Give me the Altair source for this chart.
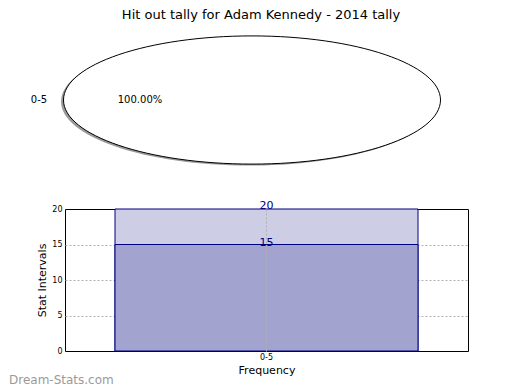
import altair as alt
import pandas as pd

# ---- data -----------------------------------------------------------
categories = ["0-5"]
totals = [20]
hits = [15]
shares = [100.0]
pie_labels = ["100.00%"]
y_ticks = [0, 5, 10, 15, 20]

TITLE = "Hit out tally for Adam Kennedy - 2014 tally"
WATERMARK = "Dream-Stats.com"

pie_df = pd.DataFrame({"cat": categories, "share": shares, "pct": pie_labels})
bar_df = pd.DataFrame({"cat": categories, "total": totals, "hits": hits})

FONT = "DejaVu Sans"
NAVY = "#000080"
GRID = "#b0b0b0"
ELLIPSE = "M-1,0A1,0.34,0,1,1,1,0A1,0.34,0,1,1,-1,0Z"

# ---- top panel: single-slice pie drawn as flattened ellipse ---------
top = alt.Chart(pie_df)
title_mark = top.mark_text(text=TITLE, font=FONT, fontSize=13, color="black",
                           align="center", baseline="alphabetic").encode(
    x=alt.value(196), y=alt.value(10))
shadow = top.mark_point(shape=ELLIPSE, filled=True, fill="#9a9a9a", opacity=1,
                        strokeWidth=0, xOffset=-2.5, yOffset=1.5).encode(
    x=alt.value(187), y=alt.value(91), size=alt.value(142129))
slice_ = top.mark_point(shape=ELLIPSE, filled=True, fill="white", stroke="black",
                        strokeWidth=1, opacity=1).encode(
    x=alt.value(187), y=alt.value(91), size=alt.value(142129),
    tooltip=["cat", "share"])
cat_label = top.mark_text(font=FONT, fontSize=10, color="black", align="center",
                          baseline="middle").encode(
    x=alt.value(-26), y=alt.value(91), text="cat:N")
pct_label = top.mark_text(font=FONT, fontSize=10, color="black", align="center",
                          baseline="middle").encode(
    x=alt.value(75), y=alt.value(91), text="pct:N")

top_panel = alt.layer(title_mark, shadow, slice_, cat_label, pct_label).properties(
    width=403, height=190, view=alt.ViewBackground(stroke="transparent"))

# ---- bottom panel: bars --------------------------------------------
x_axis = alt.Axis(labelAngle=0, labelFont=FONT, labelFontSize=8,
                  labelColor="black", labelPadding=2, ticks=False,
                  domain=False, grid=True, gridColor=GRID,
                  gridDash=[2, 2], titleFont=FONT, titleFontSize=11,
                  titleFontWeight="normal", titleColor="black",
                  titlePadding=3, zindex=1)
x_enc = alt.X("cat:N", title="Frequency", scale=alt.Scale(domain=categories),
              axis=x_axis)
y_scale = alt.Scale(domain=[0, 20], nice=False)
y_axis = alt.Axis(values=y_ticks, labelFont=FONT, labelFontSize=8,
                  labelColor="black", labelPadding=3, ticks=False, domain=False,
                  labelOverlap=False,
                  grid=True, gridColor=GRID, gridDash=[2, 2],
                  gridOpacity=alt.condition("datum.value > 0 && datum.value < 20",
                                            alt.value(1), alt.value(0)),
                  titleFont=FONT, titleFontSize=11, titleFontWeight="normal",
                  titleColor="black", titlePadding=4, zindex=0)


def y_enc(field):
    return alt.Y(field, title="Stat Intervals", scale=y_scale, axis=y_axis)


bottom = alt.Chart(bar_df)
total_bar = bottom.mark_bar(size=303, color="#cdcde5", stroke=NAVY,
                            strokeWidth=1).encode(x=x_enc, y=y_enc("total:Q"))
hit_bar = bottom.mark_bar(size=303, color="#a3a3cf", stroke=NAVY,
                          strokeWidth=1).encode(x=x_enc, y=y_enc("hits:Q"))
total_txt = bottom.mark_text(font=FONT, fontSize=11, color=NAVY, align="center",
                             baseline="alphabetic", dy=0).encode(
    x=x_enc, y=y_enc("total:Q"), text="total:Q")
hit_txt = bottom.mark_text(font=FONT, fontSize=11, color=NAVY, align="center",
                           baseline="alphabetic", dy=1).encode(
    x=x_enc, y=y_enc("hits:Q"), text="hits:Q")
watermark = bottom.mark_text(text=WATERMARK, font=FONT, fontSize=12,
                             fontWeight="normal", color="#9a9a9a", align="left",
                             baseline="middle").encode(
    x=alt.value(-56), y=alt.value(171))

bottom_panel = alt.layer(total_bar, hit_bar, total_txt, hit_txt, watermark).properties(
    width=403, height=142, view=alt.ViewBackground(stroke="black", strokeWidth=1))

chart = alt.vconcat(top_panel, bottom_panel, spacing=10, bounds="flush").properties(
    padding={"left": 0, "top": 0, "right": 0, "bottom": 0},
    background="white")

chart.save("out.html", embed_options={"renderer": "svg", "actions": False})
